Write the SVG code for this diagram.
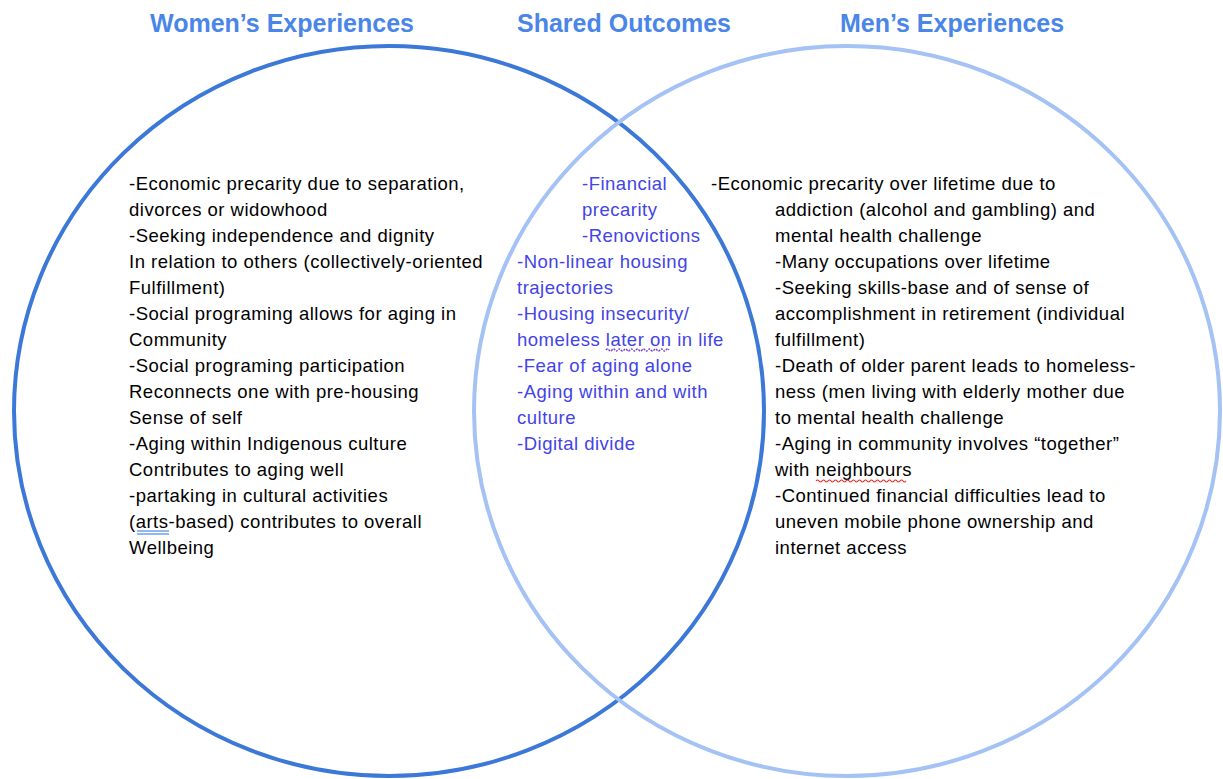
<svg xmlns="http://www.w3.org/2000/svg" width="1223" height="779" viewBox="0 0 1223 779">
  <style>
    .title { font-family: "Liberation Sans", Arial, sans-serif; font-weight: bold; font-size: 25px; fill: #4a86e8; }
    .body { font-family: "Liberation Sans", Arial, sans-serif; font-size: 18.5px; letter-spacing: 0.5px; fill: #000000; }
    .shared { font-family: "Liberation Sans", Arial, sans-serif; font-size: 18.5px; letter-spacing: 0.5px; fill: #4343e8; }
    .ring { fill: none; }
  </style>
  <rect width="1223" height="779" fill="#ffffff"/>

  <!-- Headings -->
  <g id="headings">
    <text class="title" x="150" y="32">Women’s Experiences</text>
    <text class="title" x="517" y="32">Shared Outcomes</text>
    <text class="title" x="840" y="32">Men’s Experiences</text>
  </g>

  <!-- Circles: the light ring is drawn over the dark one -->
  <g id="women-circle">
    <ellipse class="ring" cx="389" cy="411" rx="375" ry="365" stroke="#3c78d8" stroke-width="4"/>
  </g>
  <g id="men-circle">
    <ellipse class="ring" cx="847" cy="411" rx="373" ry="365" stroke="#a4c2f4" stroke-width="4"/>
  </g>

  <!-- Women's list -->
  <g id="women-text" class="body">
    <text x="129" y="190">-Economic precarity due to separation,</text>
    <text x="129" y="216">divorces or widowhood</text>
    <text x="129" y="242">-Seeking independence and dignity</text>
    <text x="129" y="268">In relation to others (collectively-oriented</text>
    <text x="129" y="294">Fulfillment)</text>
    <text x="129" y="320">-Social programing allows for aging in</text>
    <text x="129" y="346">Community</text>
    <text x="129" y="372">-Social programing participation</text>
    <text x="129" y="398">Reconnects one with pre-housing</text>
    <text x="129" y="424">Sense of self</text>
    <text x="129" y="450">-Aging within Indigenous culture</text>
    <text x="129" y="476">Contributes to aging well</text>
    <text x="129" y="502">-partaking in cultural activities</text>
    <text x="129" y="528">(arts-based) contributes to overall</text>
    <text x="129" y="554">Wellbeing</text>
    <!-- grammar mark under "arts" -->
    <line x1="137" y1="531" x2="169" y2="531" stroke="#4a86e8" stroke-width="1.2"/>
    <line x1="137" y1="534" x2="169" y2="534" stroke="#4a86e8" stroke-width="1.2"/>
  </g>

  <!-- Shared list -->
  <g id="shared-text" class="shared">
    <text x="582" y="190">-Financial</text>
    <text x="582" y="216">precarity</text>
    <text x="582" y="242">-Renovictions</text>
    <text x="517" y="268">-Non-linear housing</text>
    <text x="517" y="294">trajectories</text>
    <text x="517" y="320">-Housing insecurity/</text>
    <text x="517" y="346">homeless later on in life</text>
    <text x="517" y="372">-Fear of aging alone</text>
    <text x="517" y="398">-Aging within and with</text>
    <text x="517" y="424">culture</text>
    <text x="517" y="450">-Digital divide</text>
    <!-- spelling mark under "later on" -->
    <path d="M606 350 q1.5 -2 3 0 t3 0 t3 0 t3 0 t3 0 t3 0 t3 0 t3 0 t3 0 t3 0 t3 0 t3 0 t3 0 t3 0 t3 0 t3 0 t3 0 t3 0 t3 0 t3 0 t3 0" fill="none" stroke="#7a3ec8" stroke-width="1.3" stroke-dasharray="2 1"/>
  </g>

  <!-- Men's list -->
  <g id="men-text" class="body">
    <text x="711" y="190">-Economic precarity over lifetime due to</text>
    <text x="775" y="216">addiction (alcohol and gambling) and</text>
    <text x="775" y="242">mental health challenge</text>
    <text x="775" y="268">-Many occupations over lifetime</text>
    <text x="775" y="294">-Seeking skills-base and of sense of</text>
    <text x="775" y="320">accomplishment in retirement (individual</text>
    <text x="775" y="346">fulfillment)</text>
    <text x="775" y="372">-Death of older parent leads to homeless-</text>
    <text x="775" y="398">ness (men living with elderly mother due</text>
    <text x="775" y="424">to mental health challenge</text>
    <text x="775" y="450">-Aging in community involves “together”</text>
    <text x="775" y="476">with neighbours</text>
    <text x="775" y="502">-Continued financial difficulties lead to</text>
    <text x="775" y="528">uneven mobile phone ownership and</text>
    <text x="775" y="554">internet access</text>
    <!-- spelling mark under "neighbours" -->
    <path d="M816 481 q1.5 -2 3 0 t3 0 t3 0 t3 0 t3 0 t3 0 t3 0 t3 0 t3 0 t3 0 t3 0 t3 0 t3 0 t3 0 t3 0 t3 0 t3 0 t3 0 t3 0 t3 0 t3 0 t3 0 t3 0 t3 0 t3 0 t3 0 t3 0 t3 0 t3 0 t3 0" fill="none" stroke="#e0302a" stroke-width="1.2"/>
  </g>
</svg>
